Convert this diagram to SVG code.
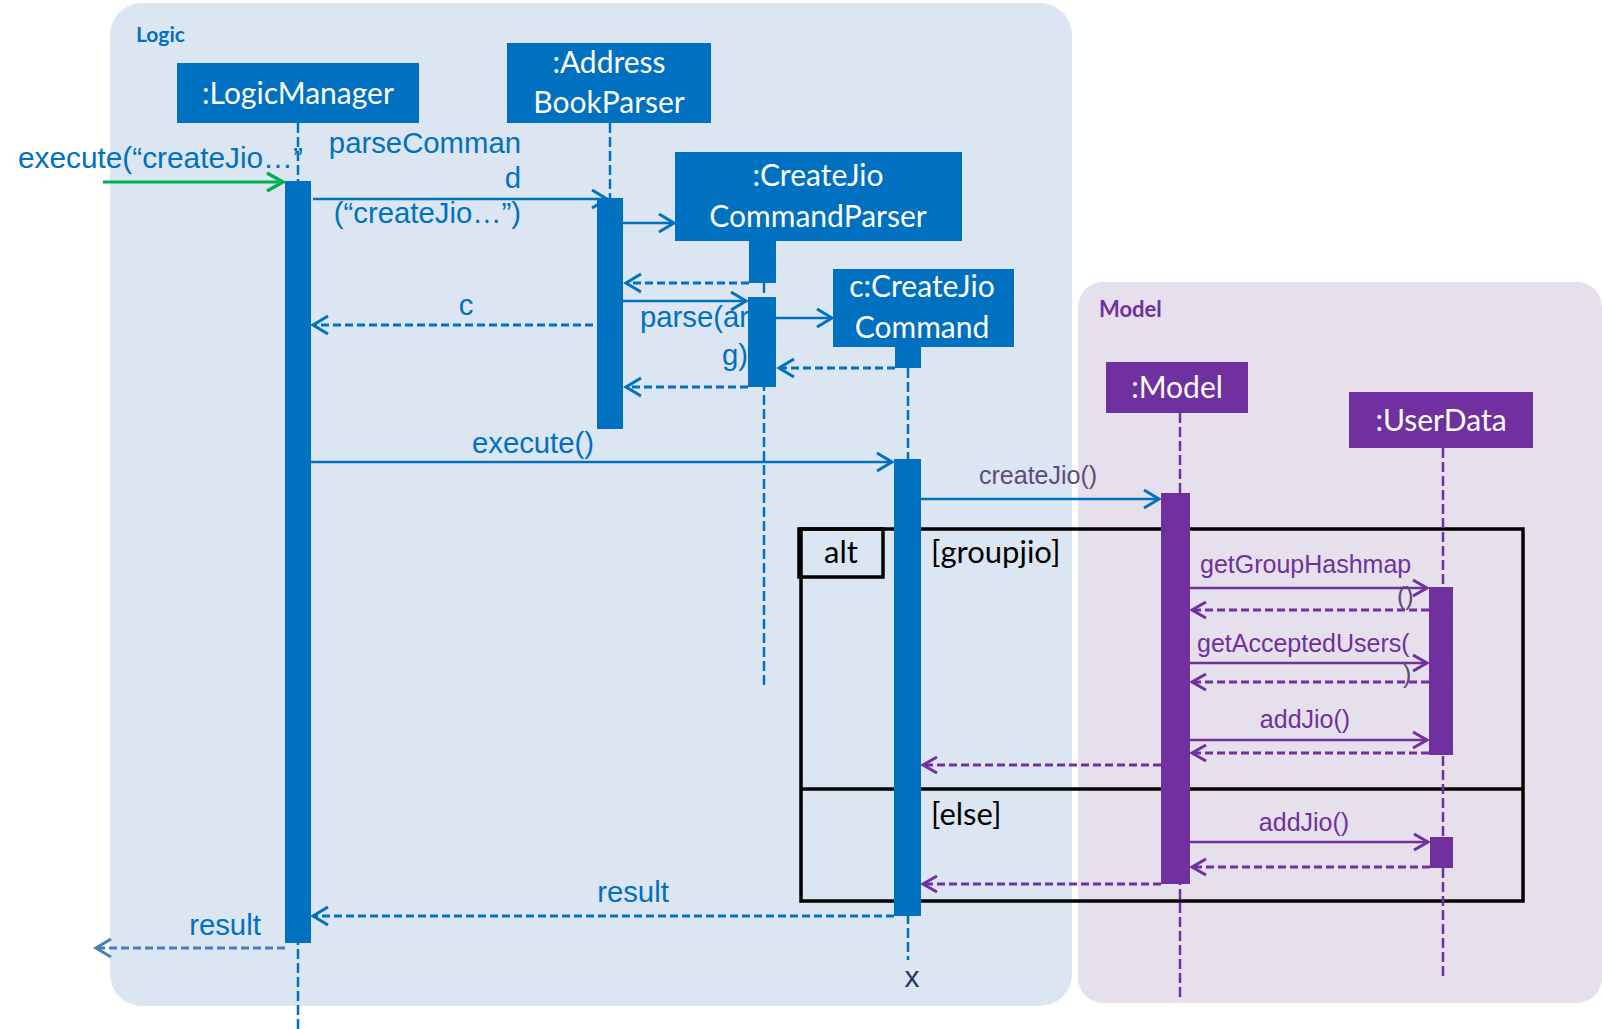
<svg xmlns="http://www.w3.org/2000/svg" width="1602" height="1029" viewBox="0 0 1602 1029">
<defs>
<style>
.box-b{fill:#0070C0}
.box-p{fill:#7030A0}
.bt{font-family:Lato,"Open Sans","Noto Sans",sans-serif;font-size:30px;fill:#FFFFFF;text-anchor:middle}
.life-b{stroke:#0070C0;stroke-width:2.5;stroke-dasharray:10 4;fill:none}
.life-p{stroke:#7030A0;stroke-width:2.5;stroke-dasharray:10 4;fill:none}
.act-b{fill:#0070C0}
.act-p{fill:#7030A0}
.msg-b{stroke:#0070C0;stroke-width:2.5;fill:none;marker-end:url(#ab)}
.ret-b{stroke:#0070C0;stroke-width:3;stroke-dasharray:8 4;fill:none;marker-end:url(#ab)}
.msg-p{stroke:#7030A0;stroke-width:2.5;fill:none;marker-end:url(#ap)}
.ret-p{stroke:#7030A0;stroke-width:3;stroke-dasharray:8 4;fill:none;marker-end:url(#ap)}
.lb{font-family:"Liberation Sans",Arial,sans-serif;font-size:29.3px;fill:#0070C0}
.lp{font-family:"Liberation Sans",Arial,sans-serif;font-size:25px;fill:#7030A0}
.ft{font-family:Lato,"Open Sans","Noto Sans",sans-serif;font-size:31px;fill:#000000}
</style>
<marker id="ab" markerUnits="userSpaceOnUse" markerWidth="20" markerHeight="22" refX="0" refY="0" orient="auto" overflow="visible"><path d="M-15,-9 L0,0 L-15,9" fill="none" stroke="#0070C0" stroke-width="3"/></marker>
<marker id="ap" markerUnits="userSpaceOnUse" markerWidth="20" markerHeight="22" refX="0" refY="0" orient="auto" overflow="visible"><path d="M-14,-8 L0,0 L-14,8" fill="none" stroke="#7030A0" stroke-width="3"/></marker>
<marker id="ag" markerUnits="userSpaceOnUse" markerWidth="20" markerHeight="22" refX="0" refY="0" orient="auto" overflow="visible"><path d="M-16,-9 L0,0 L-16,9" fill="none" stroke="#00B050" stroke-width="3.5"/></marker>
<marker id="as" markerUnits="userSpaceOnUse" markerWidth="20" markerHeight="22" refX="0" refY="0" orient="auto" overflow="visible"><path d="M-15,-9 L0,0 L-15,9" fill="none" stroke="#4A7EBB" stroke-width="3"/></marker>
</defs>
<rect x="0" y="0" width="1602" height="1029" fill="#FFFFFF"/>

<g id="logic-frame">
<rect x="110" y="3" width="962" height="1003" rx="32" fill="#DCE6F2"/>
<text x="136" y="42" font-family="Lato,'Open Sans',sans-serif" font-size="21" font-weight="bold" fill="#0070C0">Logic</text>
</g>
<g id="model-frame">
<rect x="1078" y="282" width="524" height="721" rx="25" fill="#E6E0EC"/>
<text x="1099" y="317" font-family="Lato,'Open Sans',sans-serif" font-size="22" font-weight="bold" fill="#7030A0">Model</text>
</g>

<g id="alt-fragment">
<rect x="801" y="529" width="722" height="372" fill="none" stroke="#000000" stroke-width="3.5"/>
<line x1="801" y1="789" x2="1523" y2="789" stroke="#000000" stroke-width="3.5"/>
<rect x="799" y="529" width="84" height="48" fill="none" stroke="#000000" stroke-width="3.5"/>
<text class="ft" x="841" y="563" text-anchor="middle">alt</text>
<text class="ft" x="931" y="563">[groupjio]</text>
<text class="ft" x="931" y="825">[else]</text>
</g>

<g id="connectors">
<line x1="103" y1="182" x2="283" y2="182" stroke="#00B050" stroke-width="3" marker-end="url(#ag)"/>
<text class="lb" x="18" y="168" style="font-size:29.8px">execute(“createJio…”</text>
<path class="msg-b" d="M313,199 H607"/>
<text class="lb" x="521" y="153" text-anchor="end">parseComman</text>
<text class="lb" x="521" y="188" text-anchor="end">d</text>
<text class="lb" x="521" y="223" text-anchor="end">(“createJio…”)</text>
<path class="msg-b" d="M623,223 H674"/>
<path class="ret-b" d="M749,283 H626"/>
<path class="msg-b" d="M623,301 H746"/>
<text class="lb" x="640" y="327">parse(ar</text>
<text class="lb" x="748" y="365" text-anchor="end">g)</text>
<path class="msg-b" d="M776,318 H832"/>
<path class="ret-b" d="M895,368 H779"/>
<path class="ret-b" d="M748,387 H626"/>
<path class="ret-b" d="M593,325 H313"/>
<text class="lb" x="466" y="315" text-anchor="middle">c</text>
<path class="msg-b" d="M311,462 H892"/>
<text class="lb" x="533" y="453" text-anchor="middle">execute()</text>
<path class="msg-b" d="M921,499 H1159"/>
<text class="lp" x="979" y="484" style="fill:#604A7B">createJio()</text>
<path class="msg-p" d="M1190,588 H1427"/>
<text class="lp" x="1200" y="573">getGroupHashmap</text>
<text class="lp" x="1397" y="605" style="fill:#5F497A">()</text>
<path class="ret-p" d="M1429,610 H1192"/>
<path class="msg-p" d="M1190,663 H1427"/>
<text class="lp" x="1197" y="652">getAcceptedUsers(</text>
<text class="lp" x="1403" y="683" style="fill:#5F497A">)</text>
<path class="ret-p" d="M1429,682 H1192"/>
<path class="msg-p" d="M1190,740 H1427"/>
<text class="lp" x="1305" y="728" text-anchor="middle">addJio()</text>
<path class="ret-p" d="M1429,753 H1192"/>
<path class="ret-p" d="M1161,765 H923"/>
<path class="msg-p" d="M1190,842 H1428"/>
<text class="lp" x="1304" y="831" text-anchor="middle">addJio()</text>
<path class="ret-p" d="M1430,867 H1192"/>
<path class="ret-p" d="M1161,884 H923"/>
<path class="ret-b" d="M894,916 H313"/>
<text class="lb" x="633" y="902" text-anchor="middle">result</text>
<path d="M285,948 H96" fill="none" stroke="#4A7EBB" stroke-width="3" stroke-dasharray="8 4" marker-end="url(#as)"/>
<text class="lb" x="225" y="935" text-anchor="middle">result</text>
</g>

<g id="logicManager">
<line class="life-b" x1="298" y1="123" x2="298" y2="1029"/>
<rect class="box-b" x="177" y="63" width="242" height="60"/>
<text class="bt" x="298" y="104">:LogicManager</text>
<rect class="act-b" x="285" y="181" width="26" height="762"/>
</g>

<g id="addressBookParser">
<line class="life-b" x1="610" y1="123" x2="610" y2="198"/>
<rect class="box-b" x="507" y="43" width="204" height="80"/>
<text class="bt" x="609" y="73">:Address</text>
<text class="bt" x="609" y="113">BookParser</text>
<rect class="act-b" x="597" y="198" width="26" height="231"/>
</g>

<g id="createJioCommandParser">
<line class="life-b" x1="764" y1="283" x2="764" y2="687"/>
<rect class="box-b" x="675" y="152" width="287" height="89"/>
<text class="bt" x="818" y="186">:CreateJio</text>
<text class="bt" x="818" y="227">CommandParser</text>
<rect class="act-b" x="749" y="241" width="27" height="42"/>
<rect class="act-b" x="748" y="297" width="28" height="90"/>
</g>

<g id="createJioCommand">
<line class="life-b" x1="908" y1="368" x2="908" y2="960"/>
<rect class="box-b" x="833" y="269" width="181" height="78"/>
<text class="bt" x="922" y="297">c:CreateJio</text>
<text class="bt" x="922" y="338">Command</text>
<rect class="act-b" x="895" y="347" width="26" height="21"/>
<rect class="act-b" x="894" y="459" width="27" height="457"/>
<text x="912" y="987" text-anchor="middle" font-family="'Liberation Sans',Arial,sans-serif" font-size="30" fill="#1F3864">x</text>
</g>

<g id="model">
<line class="life-p" x1="1180" y1="413" x2="1180" y2="1000"/>
<rect class="box-p" x="1106" y="362" width="142" height="51"/>
<text class="bt" x="1177" y="398">:Model</text>
<rect class="act-p" x="1161" y="493" width="29" height="391"/>
</g>

<g id="userData">
<line class="life-p" x1="1443" y1="448" x2="1443" y2="977"/>
<rect class="box-p" x="1349" y="392" width="184" height="56"/>
<text class="bt" x="1441" y="431">:UserData</text>
<rect class="act-p" x="1429" y="587" width="24" height="168"/>
<rect class="act-p" x="1430" y="837" width="23" height="31"/>
</g>
</svg>
